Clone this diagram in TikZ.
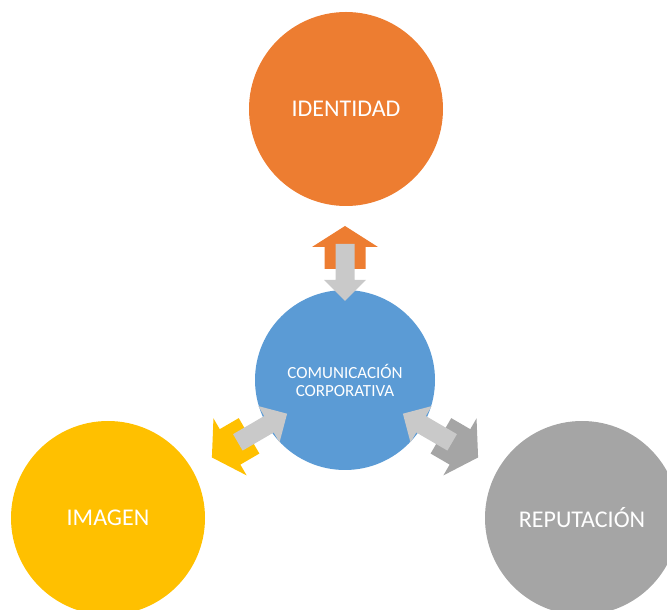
\documentclass[tikz,border=0pt]{standalone}
\usepackage{fontspec}
\setmainfont{Carlito}
\definecolor{cOrange}{HTML}{ED7D31}
\definecolor{cBlue}{HTML}{5B9BD5}
\definecolor{cYellow}{HTML}{FFC000}
\definecolor{cGray}{HTML}{A5A5A5}
\definecolor{cLight}{HTML}{C9C9C9}
\tikzset{
  bigcirc/.style={circle, draw=none, minimum size=194pt, inner sep=0pt, text=white,
    font=\fontsize{24}{28}\selectfont},
  midcirc/.style={circle, draw=none, minimum size=180pt, inner sep=0pt, text=white,
    align=center, font=\fontsize{17}{18}\selectfont},
}
% outward block arrow in local frame (axis along +x)
\newcommand{\outarrow}[3]{%
  \begin{scope}[shift={(#1)}, rotate=#2]
    \fill[#3] (111,-20.5) -- (133,-20.5) -- (133,-33) -- (154,0) -- (133,33)
      -- (133,20.5) -- (111,20.5) -- cycle;
  \end{scope}}
% inward block arrow, tip at distance #3
\newcommand{\inarrow}[3]{%
  \begin{scope}[shift={(#1)}, rotate=#2, xshift=#3]
    \fill[cLight] (0,0) -- (21,21) -- (21,9.5) -- (57,9.5) -- (57,-9.5)
      -- (21,-9.5) -- (21,-21) -- cycle;
  \end{scope}}
\begin{document}
\begin{tikzpicture}[x=1pt, y=1pt]
  \useasboundingbox (0,0) rectangle (667,610);
  \clip (0,0) rectangle (667,610);
  \node[bigcirc, fill=cOrange] (ident) at (346,501) {IDENTIDAD};
  \node[bigcirc, fill=cYellow] (imagen) at (108,92) {IMAGEN};
  \node[bigcirc, fill=cGray] (reput) at (582,92) {REPUTACIÓN};
  \node[midcirc, fill=cBlue] (com) at (345,230) {COMUNICACIÓN\\CORPORATIVA};
  \outarrow{com.center}{90}{cOrange}
  \outarrow{com.center}{210.2}{cYellow}
  \outarrow{com.center}{-30.2}{cGray}
  \inarrow{com.center}{90}{79pt}
  \inarrow{com.center}{210.2}{67pt}
  \inarrow{com.center}{-30.2}{67pt}
\end{tikzpicture}
\end{document}
